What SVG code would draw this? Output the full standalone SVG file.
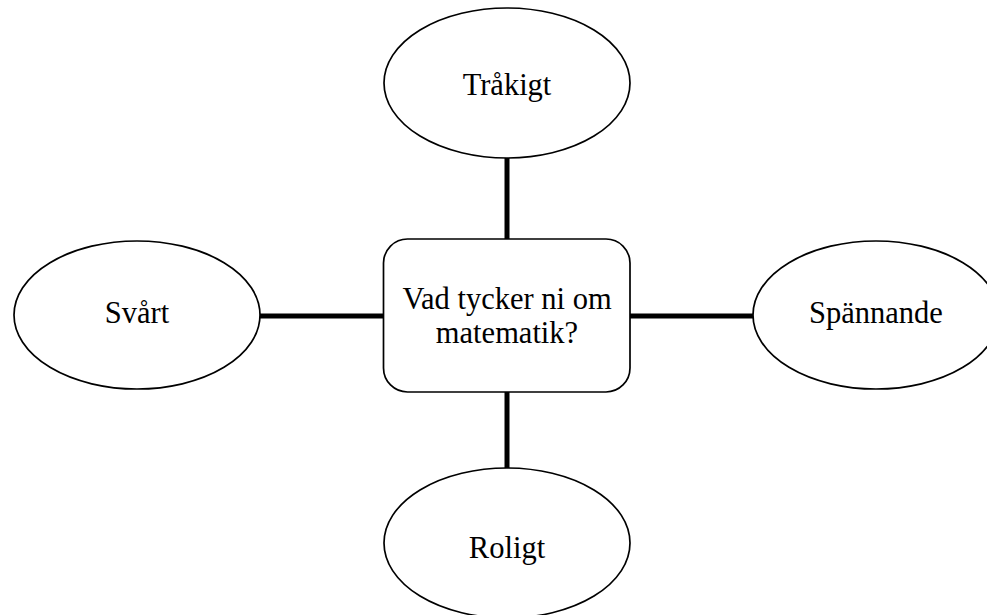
<svg xmlns="http://www.w3.org/2000/svg" width="987" height="615" viewBox="0 0 987 615">
<style>
.n{fill:#fff;stroke:#000;stroke-width:1.7}
.t{font-family:"Liberation Serif","Times New Roman",serif;font-size:30.5px;fill:#000;text-anchor:middle}
.c{stroke:#000;stroke-width:5;fill:none}
</style>
<rect width="987" height="615" fill="#fff"/>
<g id="connectors">
<line class="c" x1="507" y1="158" x2="507" y2="240"/>
<line class="c" x1="507" y1="392" x2="507" y2="468"/>
<line class="c" x1="260" y1="316" x2="384" y2="316"/>
<line class="c" x1="630" y1="316" x2="753" y2="316"/>
</g>
<g id="center">
<rect class="n" x="383.5" y="239" width="246.5" height="153" rx="24" ry="24"/>
<text class="t" x="507" y="309">Vad tycker ni om</text>
<text class="t" x="507" y="343">matematik?</text>
</g>
<g id="trakigt">
<ellipse class="n" cx="507" cy="83" rx="123" ry="75"/>
<text class="t" x="507" y="95">Tråkigt</text>
</g>
<g id="svart">
<ellipse class="n" cx="137" cy="315" rx="123" ry="74"/>
<text class="t" x="137" y="323">Svårt</text>
</g>
<g id="spannande">
<ellipse class="n" cx="876" cy="315" rx="123" ry="74"/>
<text class="t" x="876" y="323">Spännande</text>
</g>
<g id="roligt">
<ellipse class="n" cx="507" cy="543" rx="123" ry="75"/>
<text class="t" x="507" y="558">Roligt</text>
</g>
</svg>
